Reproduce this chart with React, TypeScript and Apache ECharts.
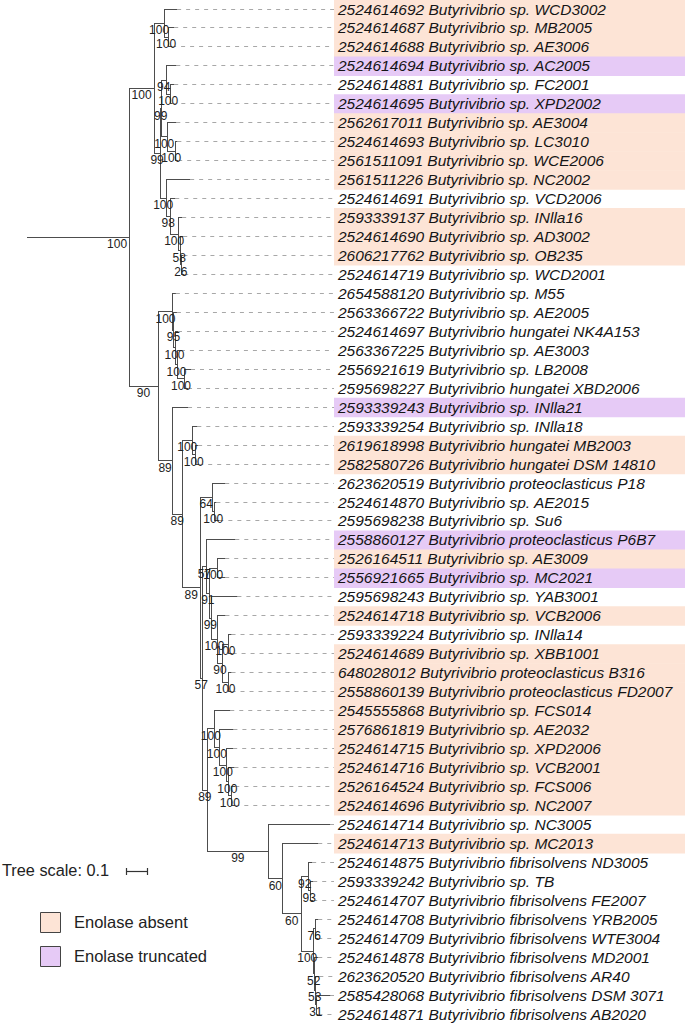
import React, { useEffect, useRef } from "react";
import * as echarts from "echarts";

const leafIds = [
  "2524614692", "2524614687", "2524614688", "2524614694", "2524614881", "2524614695",
  "2562617011", "2524614693", "2561511091", "2561511226", "2524614691", "2593339137",
  "2524614690", "2606217762", "2524614719", "2654588120", "2563366722", "2524614697",
  "2563367225", "2556921619", "2595698227", "2593339243", "2593339254", "2619618998",
  "2582580726", "2623620519", "2524614870", "2595698238", "2558860127", "2526164511",
  "2556921665", "2595698243", "2524614718", "2593339224", "2524614689", "648028012",
  "2558860139", "2545555868", "2576861819", "2524614715", "2524614716", "2526164524",
  "2524614696", "2524614714", "2524614713", "2524614875", "2593339242", "2524614707",
  "2524614708", "2524614709", "2524614878", "2623620520", "2585428068", "2524614871",
];

const leafNames = [
  "Butyrivibrio sp. WCD3002", "Butyrivibrio sp. MB2005", "Butyrivibrio sp. AE3006",
  "Butyrivibrio sp. AC2005", "Butyrivibrio sp. FC2001", "Butyrivibrio sp. XPD2002",
  "Butyrivibrio sp. AE3004", "Butyrivibrio sp. LC3010", "Butyrivibrio sp. WCE2006",
  "Butyrivibrio sp. NC2002", "Butyrivibrio sp. VCD2006", "Butyrivibrio sp. INlla16",
  "Butyrivibrio sp. AD3002", "Butyrivibrio sp. OB235", "Butyrivibrio sp. WCD2001",
  "Butyrivibrio sp. M55", "Butyrivibrio sp. AE2005", "Butyrivibrio hungatei NK4A153",
  "Butyrivibrio sp. AE3003", "Butyrivibrio sp. LB2008", "Butyrivibrio hungatei XBD2006",
  "Butyrivibrio sp. INlla21", "Butyrivibrio sp. INlla18", "Butyrivibrio hungatei MB2003",
  "Butyrivibrio hungatei DSM 14810", "Butyrivibrio proteoclasticus P18", "Butyrivibrio sp. AE2015",
  "Butyrivibrio sp. Su6", "Butyrivibrio proteoclasticus P6B7", "Butyrivibrio sp. AE3009",
  "Butyrivibrio sp. MC2021", "Butyrivibrio sp. YAB3001", "Butyrivibrio sp. VCB2006",
  "Butyrivibrio sp. INlla14", "Butyrivibrio sp. XBB1001", "Butyrivibrio proteoclasticus B316",
  "Butyrivibrio proteoclasticus FD2007", "Butyrivibrio sp. FCS014", "Butyrivibrio sp. AE2032",
  "Butyrivibrio sp. XPD2006", "Butyrivibrio sp. VCB2001", "Butyrivibrio sp. FCS006",
  "Butyrivibrio sp. NC2007", "Butyrivibrio sp. NC3005", "Butyrivibrio sp. MC2013",
  "Butyrivibrio fibrisolvens ND3005", "Butyrivibrio sp. TB", "Butyrivibrio fibrisolvens FE2007",
  "Butyrivibrio fibrisolvens YRB2005", "Butyrivibrio fibrisolvens WTE3004", "Butyrivibrio fibrisolvens MD2001",
  "Butyrivibrio fibrisolvens AR40", "Butyrivibrio fibrisolvens DSM 3071", "Butyrivibrio fibrisolvens AB2020",
];

// 0 = present, 1 = enolase absent, 2 = enolase truncated
const enolaseStatus = [
  1, 1, 1, 2, 0, 2, 1, 1, 1, 1, 0, 1, 1, 1, 0, 0, 0, 0,
  0, 0, 0, 2, 0, 1, 1, 0, 0, 0, 2, 1, 2, 0, 1, 0, 1, 1,
  1, 1, 1, 1, 1, 1, 1, 0, 1, 0, 0, 0, 0, 0, 0, 0, 0, 0,
];

// Tree topology: leaves are numbered by row (1-based), internal labels are bootstrap values
const treeNewick =
  "(((1:0.062,(2:0.029,3:0.019)100:0.019)100:0.048," +
  "(((4:0.048,(5:0.019,6:0.010)100:0.019)94:0.024,(7:0.043,(8:0.010,9:0.014)100:0.038)100:0.029)99:0.005," +
  "(10:0.114,(11:0.024,(12:0.019,(13:0.014,(14:0.010,15:0.014)26:0.005)58:0.010)100:0.038)98:0.019)100:0.029)99:0.029)100:0.119," +
  "((16:0.014,(17:0.014,(18:0.014,(19:0.014,(20:0.033,21:0.019)100:0.029)100:0.014)100:0.005)95:0.005)100:0.071," +
  "(22:0.076,((23:0.024,(24:0.014,25:0.019)100:0.014)100:0.048," +
  "((26:0.062,(27:0.010,28:0.024)100:0.010)64:0.057," +
  "((29:0.138,((30:0.038,31:0.038)100:0.038,(32:0.124,(33:0.038,((34:0.014,35:0.019)100:0.029,(36:0.014,37:0.014)100:0.029)90:0.024)100:0.029)99:0.010)91:0.014)57:0.019," +
  "((38:0.076,(39:0.067,(40:0.033,(41:0.029,(42:0.019,43:0.019)100:0.014)100:0.010)100:0.033)100:0.024)100:0.033," +
  "(44:0.295,(45:0.171,((46:0.019,(47:0.014,48:0.014)93:0.010)92:0.033,((49:0.014,50:0.014)76:0.010,(51:0.019,(52:0.019,(53:0.067,54:0.010)31:0.005)53:0.005)52:0.005)100:0.057)60:0.090)60:0.067)99:0.290)89:0.024)57:0.010)89:0.086)89:0.048)89:0.067)90:0.138)100:0.486;";

const legendLabels = ["Enolase absent", "Enolase truncated"];
const treeScaleValue = 0.1;
const X_MAX = 1.462;

const statusColors = ["", "#fde4d6", "#e6caf6"];
const LINE = "#4d4d4d";
const FONT = '"Liberation Sans", Arial, Helvetica, sans-serif';

type TNode = {
  name: string;
  len: number;
  children: TNode[];
  depth: number;
  parentDepth: number;
  y: number;
  isRoot: boolean;
};

function parseNewick(s: string): TNode {
  let i = 0;
  const parseNode = (): TNode => {
    const node: TNode = { name: "", len: 0, children: [], depth: 0, parentDepth: 0, y: 0, isRoot: false };
    if (s[i] === "(") {
      i++;
      node.children.push(parseNode());
      while (s[i] === ",") {
        i++;
        node.children.push(parseNode());
      }
      i++;
    }
    let name = "";
    while (i < s.length && !",():;".includes(s[i])) name += s[i++];
    node.name = name;
    if (s[i] === ":") {
      i++;
      let num = "";
      while (i < s.length && !",();".includes(s[i])) num += s[i++];
      node.len = parseFloat(num);
    }
    return node;
  };
  return parseNode();
}

const treeRoot = parseNewick(treeNewick);
treeRoot.isRoot = true;

const branchData: number[][] = [];
const tipData: number[][] = [];
const supportData: (number | string)[][] = [];

function layout(n: TNode, parentDepth: number) {
  n.parentDepth = parentDepth;
  n.depth = parentDepth + n.len;
  if (n.children.length === 0) {
    n.y = Number(n.name) - 1;
    branchData.push([n.parentDepth, n.depth, n.y, n.y, n.y, 0]);
    tipData.push([n.depth, n.y]);
    return;
  }
  n.children.forEach((c) => layout(c, n.depth));
  const first = n.children[0].y;
  const last = n.children[n.children.length - 1].y;
  n.y = (first + last) / 2;
  branchData.push([n.parentDepth, n.depth, n.y, first, last, 1]);
  supportData.push([n.parentDepth, n.depth, n.y, n.name, n.isRoot ? 1 : 0]);
}
layout(treeRoot, 0);

const crisp = (v: number) => Math.round(v - 0.5) + 0.5;

function buildOption(): any {
  return {
    animation: false,
    grid: { left: 27, right: 351, top: 9, bottom: 11 },
    xAxis: { type: "value", min: 0, max: X_MAX, show: false },
    yAxis: { type: "value", min: 0, max: 53, inverse: true, show: false },
    series: [
      {
        type: "custom",
        name: "bands",
        z: 1,
        clip: false,
        silent: true,
        data: enolaseStatus.map((st, i) => [X_MAX, i, st]),
        renderItem: (params: any, api: any) => {
          const st = api.value(2);
          if (!st) return null;
          const i = api.value(1);
          const top = api.coord([X_MAX, i - 0.5]);
          const bot = api.coord([X_MAX, i + 0.5]);
          return {
            type: "rect",
            shape: { x: top[0], y: top[1], width: api.getWidth() - top[0], height: bot[1] - top[1] + 0.6 },
            style: { fill: statusColors[st] },
          };
        },
      },
      {
        type: "custom",
        name: "leaders",
        z: 2,
        clip: false,
        silent: true,
        data: tipData,
        renderItem: (params: any, api: any) => {
          const a = api.coord([api.value(0), api.value(1)]);
          const b = api.coord([X_MAX, api.value(1)]);
          const y = crisp(a[1]);
          return {
            type: "line",
            shape: { x1: a[0], y1: y, x2: b[0], y2: y },
            style: { stroke: "#a8a8a8", lineWidth: 1, lineDash: [4, 5] },
          };
        },
      },
      {
        type: "custom",
        name: "branches",
        z: 3,
        clip: false,
        silent: true,
        data: branchData,
        renderItem: (params: any, api: any) => {
          const p0 = api.coord([api.value(0), api.value(2)]);
          const p1 = api.coord([api.value(1), api.value(2)]);
          const y = crisp(p1[1]);
          const children: any[] = [
            {
              type: "line",
              shape: { x1: p0[0], y1: y, x2: p1[0], y2: y },
              style: { stroke: LINE, lineWidth: 1 },
            },
          ];
          if (api.value(5)) {
            const t = api.coord([api.value(1), api.value(3)]);
            const b = api.coord([api.value(1), api.value(4)]);
            const x = crisp(t[0]);
            children.push({
              type: "line",
              shape: { x1: x, y1: crisp(t[1]) - 0.5, x2: x, y2: crisp(b[1]) + 0.5 },
              style: { stroke: LINE, lineWidth: 1 },
            });
          }
          return { type: "group", children };
        },
      },
      {
        type: "custom",
        name: "support",
        z: 4,
        clip: false,
        silent: true,
        data: supportData,
        renderItem: (params: any, api: any) => {
          const p0 = api.coord([api.value(0), api.value(2)]);
          const p1 = api.coord([api.value(1), api.value(2)]);
          const txt = String(supportData[params.dataIndex][3]);
          const isRoot = api.value(4) === 1;
          const cx = isRoot ? p1[0] - 12 : (p0[0] + p1[0]) / 2;
          return {
            type: "text",
            x: cx,
            y: p1[1] + 7,
            style: {
              text: txt,
              font: "12px " + FONT,
              fill: "#222",
              align: "center",
              verticalAlign: "middle",
            },
          };
        },
      },
      {
        type: "custom",
        name: "leafLabels",
        z: 5,
        clip: false,
        silent: true,
        data: leafIds.map((_, i) => [X_MAX, i]),
        renderItem: (params: any, api: any) => {
          const i = params.dataIndex;
          const p = api.coord([X_MAX, api.value(1)]);
          return {
            type: "text",
            x: p[0] + 4,
            y: p[1],
            style: {
              text: leafIds[i] + " " + leafNames[i],
              font: "italic 15.5px " + FONT,
              fill: "#151515",
              align: "left",
              verticalAlign: "middle",
            },
          };
        },
      },
      {
        type: "custom",
        name: "scaleBar",
        z: 5,
        clip: false,
        silent: true,
        data: [[0, 0]],
        renderItem: (params: any, api: any) => {
          const w = api.size([treeScaleValue, 0])[0];
          const x0 = 126.5;
          const y = 871.5;
          return {
            type: "group",
            children: [
              { type: "line", shape: { x1: x0, y1: y, x2: x0 + w, y2: y }, style: { stroke: "#333", lineWidth: 1.2 } },
              { type: "line", shape: { x1: x0, y1: y - 3.5, x2: x0, y2: y + 3.5 }, style: { stroke: "#333", lineWidth: 1.2 } },
              { type: "line", shape: { x1: x0 + w, y1: y - 3.5, x2: x0 + w, y2: y + 3.5 }, style: { stroke: "#333", lineWidth: 1.2 } },
            ],
          };
        },
      },
    ],
    graphic: [
      {
        type: "text",
        left: 2,
        top: 862,
        style: { text: "Tree scale: " + treeScaleValue, font: "16.3px " + FONT, fill: "#222" },
      },
      {
        type: "rect",
        left: 40,
        top: 912,
        shape: { x: 0, y: 0, width: 20, height: 20 },
        style: { fill: statusColors[1], stroke: "#444", lineWidth: 1 },
      },
      {
        type: "text",
        left: 74,
        top: 913,
        style: { text: legendLabels[0], font: "16.5px " + FONT, fill: "#222" },
      },
      {
        type: "rect",
        left: 40,
        top: 946,
        shape: { x: 0, y: 0, width: 20, height: 20 },
        style: { fill: statusColors[2], stroke: "#444", lineWidth: 1 },
      },
      {
        type: "text",
        left: 74,
        top: 947,
        style: { text: legendLabels[1], font: "16.5px " + FONT, fill: "#222" },
      },
    ],
  };
}

export default function App() {
  const ref = useRef<HTMLDivElement>(null);
  useEffect(() => {
    document.body.style.margin = "0";
    const chart = echarts.init(ref.current as HTMLDivElement, null, { renderer: "svg" });
    chart.setOption(buildOption());
    return () => chart.dispose();
  }, []);
  return <div ref={ref} style={{ width: 685, height: 1025 }} />;
}
